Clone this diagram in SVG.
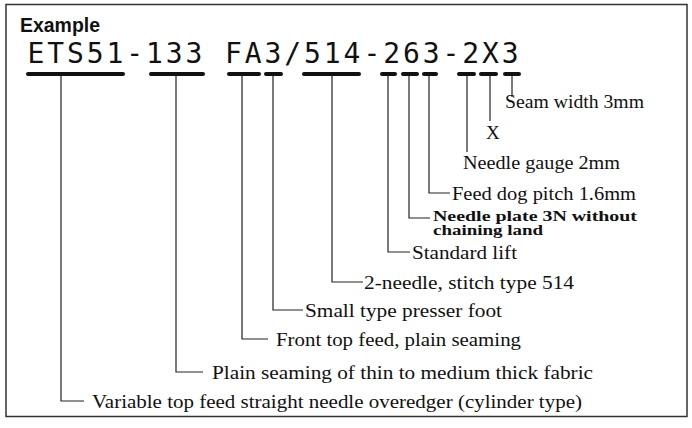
<svg xmlns="http://www.w3.org/2000/svg" width="692" height="428" viewBox="0 0 692 428">
<style>
.frame{fill:#fff;stroke:#333;stroke-width:1.5}
.title{font-family:"Liberation Sans",Arial,sans-serif;font-weight:bold;font-size:21px;fill:#111}
.code{font-family:"DejaVu Sans Mono",monospace;font-size:28px;fill:#111}
.bar{stroke:#111;stroke-width:4;stroke-linecap:round}
.conn{fill:none;stroke:#222;stroke-width:1.2}
.lbl{font-family:"Liberation Serif","Times New Roman",serif;font-size:19px;fill:#111}
.lblb{font-family:"Liberation Serif","Times New Roman",serif;font-size:14px;font-weight:bold;fill:#111}
</style>
<rect class="frame" x="6" y="4.5" width="681" height="412"/>
<g id="header">
<text class="title" x="20" y="31.5" textLength="80" lengthAdjust="spacingAndGlyphs">Example</text>
<text class="code" x="27.5" y="63" letter-spacing="2.9">ETS51-133 FA3/514-263-2X3</text>
</g>
<g id="bars">
<line class="bar" x1="28" y1="74" x2="123" y2="74"/>
<line class="bar" x1="151" y1="74" x2="203" y2="74"/>
<line class="bar" x1="229" y1="74" x2="259" y2="74"/>
<line class="bar" x1="266" y1="74" x2="281" y2="74"/>
<line class="bar" x1="304" y1="74" x2="359" y2="74"/>
<line class="bar" x1="382" y1="74" x2="395" y2="74"/>
<line class="bar" x1="403" y1="74" x2="417" y2="74"/>
<line class="bar" x1="424" y1="74" x2="436" y2="74"/>
<line class="bar" x1="459" y1="74" x2="474" y2="74"/>
<line class="bar" x1="481" y1="74" x2="496" y2="74"/>
<line class="bar" x1="505" y1="74" x2="519" y2="74"/>
</g>
<g id="connectors">
<path class="conn" d="M61 76V401H84"/>
<path class="conn" d="M176 76V372H203"/>
<path class="conn" d="M242 76V339H268"/>
<path class="conn" d="M273 76V310H303"/>
<path class="conn" d="M332 76V282H363"/>
<path class="conn" d="M388 76V252H410"/>
<path class="conn" d="M409 76V218H430"/>
<path class="conn" d="M429 76V193H450"/>
<path class="conn" d="M467 76V152"/>
<path class="conn" d="M490 76V121"/>
<path class="conn" d="M512 76V97"/>
</g>
<g id="n-seam"><text class="lbl" x="505" y="108" textLength="139" lengthAdjust="spacingAndGlyphs">Seam width 3mm</text></g>
<g id="n-x"><text class="lbl" x="486" y="139">X</text></g>
<g id="n-gauge"><text class="lbl" x="463" y="169" textLength="157" lengthAdjust="spacingAndGlyphs">Needle gauge 2mm</text></g>
<g id="n-feeddog"><text class="lbl" x="452" y="200" textLength="184" lengthAdjust="spacingAndGlyphs">Feed dog pitch 1.6mm</text></g>
<g id="n-plate">
<text class="lblb" x="433" y="221" textLength="204" lengthAdjust="spacingAndGlyphs">Needle plate 3N without</text>
<text class="lblb" x="433" y="234.5" textLength="110" lengthAdjust="spacingAndGlyphs">chaining land</text>
</g>
<g id="n-lift"><text class="lbl" x="412" y="259" textLength="105" lengthAdjust="spacingAndGlyphs">Standard lift</text></g>
<g id="n-needle"><text class="lbl" x="364" y="289" textLength="210" lengthAdjust="spacingAndGlyphs">2-needle, stitch type 514</text></g>
<g id="n-foot"><text class="lbl" x="305" y="317" textLength="197" lengthAdjust="spacingAndGlyphs">Small type presser foot</text></g>
<g id="n-front"><text class="lbl" x="276" y="346" textLength="245" lengthAdjust="spacingAndGlyphs">Front top feed, plain seaming</text></g>
<g id="n-plain"><text class="lbl" x="212" y="379" textLength="381" lengthAdjust="spacingAndGlyphs">Plain seaming of thin to medium thick fabric</text></g>
<g id="n-variable"><text class="lbl" x="92" y="408" textLength="490" lengthAdjust="spacingAndGlyphs">Variable top feed straight needle overedger (cylinder type)</text></g>
</svg>
